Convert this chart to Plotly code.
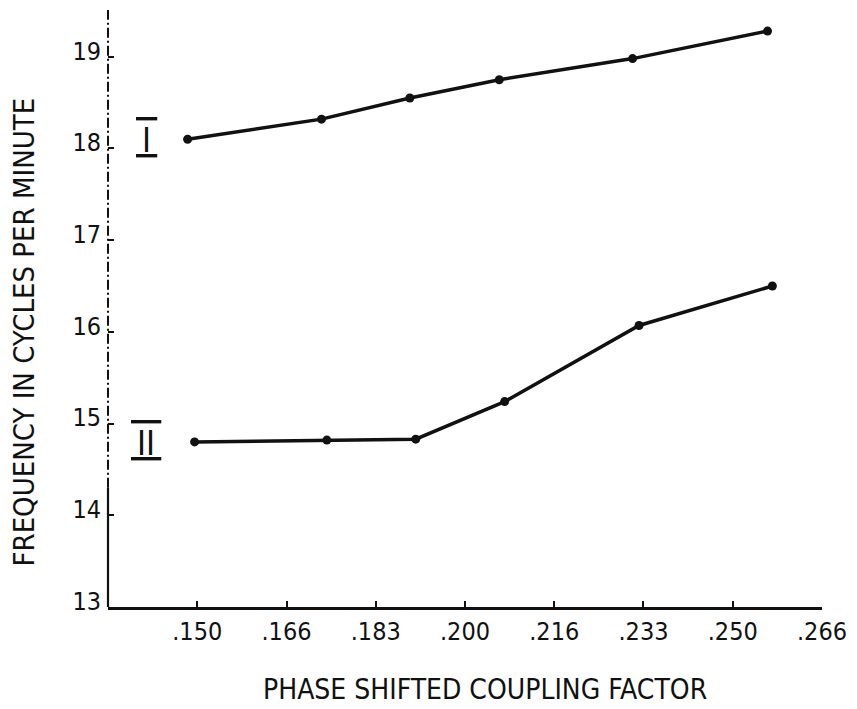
import plotly.graph_objects as go

# Coupling factor (x) and frequency in cycles per minute for the two curves
coupling_I = [0.1482, 0.1732, 0.1897, 0.2064, 0.2313, 0.2565]
freq_I = [18.10, 18.32, 18.55, 18.75, 18.98, 19.28]

coupling_II = [0.1495, 0.1742, 0.1908, 0.2074, 0.2325, 0.2574]
freq_II = [14.80, 14.82, 14.83, 15.24, 16.07, 16.50]

x_tick_vals = [0.15, 0.15 + 1 / 60, 0.15 + 2 / 60, 0.20, 0.20 + 1 / 60,
               0.20 + 2 / 60, 0.25, 0.25 + 1 / 60]
x_tick_text = [".150", ".166", ".183", ".200", ".216", ".233", ".250", ".266"]
y_tick_vals = [13, 14, 15, 16, 17, 18, 19]

curve_labels = ["I", "II"]

X_MIN, X_MAX = 0.13333, 0.26667
Y_MIN, Y_MAX = 13, 19.51
Y_SOLID_TOP = 14.3  # vertical axis is drawn solid below this value, broken above

FONT = "DejaVu Sans Condensed, Liberation Sans Narrow, DejaVu Sans, sans-serif"
INK = "#111111"

fig = go.Figure()
for xs, ys in ((coupling_I, freq_I), (coupling_II, freq_II)):
    fig.add_trace(go.Scatter(
        x=xs, y=ys, mode="lines+markers",
        line=dict(color=INK, width=3.5),
        marker=dict(color=INK, size=9),
        showlegend=False, hoverinfo="skip",
    ))

# Roman numeral curve labels with bars above and below, left of each curve
for label, yv in zip(curve_labels, (freq_I[0], freq_II[0])):
    fig.add_annotation(
        x=0.1405, y=yv, xref="x", yref="y", showarrow=False, yshift=-1,
        text=('<span style="text-decoration:overline underline">'
              '\u2009' + label + '\u2009</span>'),
        font=dict(family="DejaVu Sans Condensed, DejaVu Sans", size=34, color=INK),
    )

# Axis titles
fig.add_annotation(
    x=0.5, y=0, xref="paper", yref="paper", xshift=20, yshift=-82,
    text="PHASE SHIFTED COUPLING FACTOR", showarrow=False,
    font=dict(family=FONT, size=28, color=INK), yanchor="middle",
)
fig.add_annotation(
    x=0, y=0.5, xref="paper", yref="paper", xshift=-85, yshift=-24,
    text="FREQUENCY IN CYCLES PER MINUTE", showarrow=False, textangle=-90,
    font=dict(family=FONT, size=29, color=INK), xanchor="center",
)

# Hand-ruled vertical axis: broken (dash-dot) in its upper part, solid near the origin
split = (Y_SOLID_TOP - Y_MIN) / (Y_MAX - Y_MIN)
fig.add_shape(type="line", xref="paper", yref="y domain", x0=0, x1=0,
              y0=split, y1=1, line=dict(color=INK, width=2, dash="10px,3px,2px,3px"))
fig.add_shape(type="line", xref="paper", yref="y domain", x0=0, x1=0,
              y0=0, y1=split, line=dict(color=INK, width=2.2))

fig.update_xaxes(
    range=[X_MIN, X_MAX], tickvals=x_tick_vals, ticktext=x_tick_text,
    showline=True, linecolor=INK, linewidth=2.5, showgrid=False, zeroline=False,
    ticks="inside", ticklen=6, tickwidth=2, tickcolor=INK,
    tickfont=dict(family=FONT, size=25, color=INK),
)
fig.update_yaxes(
    range=[Y_MIN, Y_MAX], tickvals=y_tick_vals,
    showline=False, showgrid=False, zeroline=False,
    ticks="inside", ticklen=6, tickwidth=2, tickcolor=INK,
    tickfont=dict(family=FONT, size=25, color=INK), ticklabelshift=-6,
    ticklabelstandoff=6,
)

fig.update_layout(
    width=857, height=709,
    margin=dict(l=108, r=30, t=10, b=102),
    paper_bgcolor="white", plot_bgcolor="white",
)

fig.write_html("out.html")
